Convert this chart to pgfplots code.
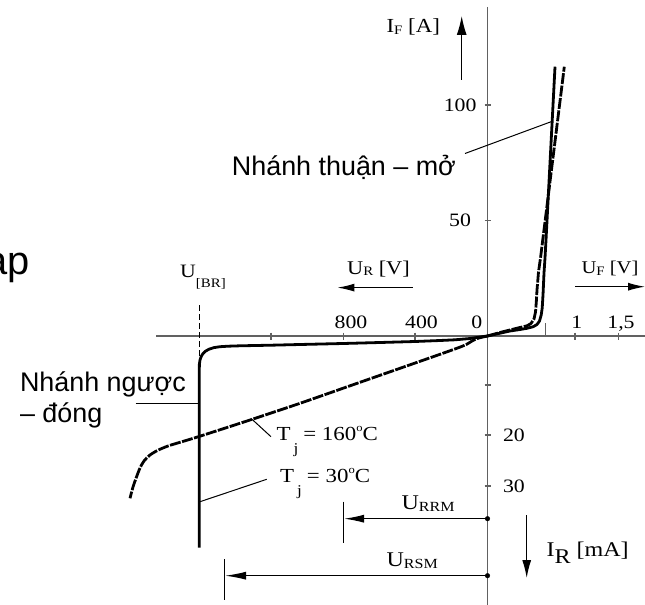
\documentclass[border=0pt]{standalone}
\usepackage{pgfplots}
\pgfplotsset{compat=1.18}
\usetikzlibrary{arrows.meta}
\usepackage{fontspec}
\setmainfont{Liberation Serif}[FakeStretch=1.15]
\newfontfamily\arial{Liberation Sans}
\newcommand\fs[1]{\fontsize{#1}{#1}\selectfont}
\newcommand\sub[2][1.5bp]{\raisebox{-#1}{\fs{13}#2}}
\definecolor{axgray}{gray}{0.38}
\definecolor{txt}{gray}{0.12}
\begin{document}
\begin{tikzpicture}
\begin{axis}[
  width=645bp, height=605bp, scale only axis,
  xmin=0, xmax=645, ymin=0, ymax=605, y dir=reverse,
  hide axis, clip=false,
  every node/.append style={inner sep=0pt, text=txt},
]
% ---- axes ----
\addplot[axgray, line width=1.3bp] coordinates {(156,336) (645,336)};
\addplot[axgray, line width=1.3bp] coordinates {(487.5,7) (487.5,605)};
% x ticks
\addplot[axgray, line width=1.2bp] coordinates {(271,332.5) (271,339.5)};
\addplot[axgray, line width=1.2bp] coordinates {(343.3,332.5) (343.3,339.5)};
\addplot[axgray, line width=1.2bp] coordinates {(415,332.5) (415,339.5)};
\addplot[axgray, line width=1.2bp] coordinates {(575,332.5) (575,339.5)};
\addplot[axgray, line width=1.2bp] coordinates {(618.3,332.5) (618.3,339.5)};
\addplot[axgray, line width=1.2bp] coordinates {(545.7,323) (545.7,336)};
% y ticks
\addplot[axgray, line width=1.2bp] coordinates {(484.5,105) (490.5,105)};
\addplot[axgray, line width=1.2bp] coordinates {(484.5,220.5) (490.5,220.5)};
\addplot[axgray, line width=1.2bp] coordinates {(484.5,385) (490.5,385)};
\addplot[axgray, line width=1.2bp] coordinates {(484.5,435) (490.5,435)};
\addplot[axgray, line width=1.2bp] coordinates {(484.5,486) (490.5,486)};
% U_BR dashed marker
\addplot[black, line width=1.3bp, dash pattern=on 6bp off 3bp] coordinates {(199.3,305) (199.3,366)};
% ---- curves ----
% T_j = 30 C (solid)
\addplot[black, line width=2.8bp, line join=round] coordinates {
 (487.5,336) (480,337) (470,338.5) (455,339.8) (440,340.5) (415,341.5) (380,342.5)
 (343,343.5) (300,344.5) (271,345.2) (240,345.8) (228,346.2) (220,346.7) (214,347.6)
 (209,349.2) (205.5,351.2) (203,353.5) (201.2,356.5) (200,360) (199.4,364) (199.3,370) (199.3,547.5)};
\addplot[black, line width=2.8bp, line join=round] coordinates {
 (487.5,336) (500,333.2) (510,331) (520,329.5) (527,328.3) (533,326.8) (537,324.5)
 (539.5,321) (541.2,315) (542.2,308) (543,295) (544,273) (545,258) (546,240) (555,66.7)};
% T_j = 160 C (dashed)
\addplot[black, line width=2.8bp, dash pattern=on 11bp off 1.5bp, smooth, tension=0.5] coordinates {
 (487.5,336) (482,337.2) (477,338.6) (472,341) (467,344.1) (460,347.1) (440,354.3) (400,368.3)
 (350,385.8) (300,403.3) (250,420) (199,436.5) (180,442.3) (168,446) (158,450.2) (150,455)
 (144,461) (140,468) (136.5,477) (133,487) (130,498.3)};
\addplot[black, line width=2.8bp, dash pattern=on 11bp off 1.5bp, line join=round] coordinates {
 (487.5,336) (500,332.5) (510,330) (520,327.5) (527,325.8) (531,323.5) (534,319)
 (535.5,312) (536.3,302) (537,290) (538.5,272) (540.5,258) (564.3,66.7)};
% ---- leader lines ----
\addplot[black, line width=1bp] coordinates {(465,153.5) (551.7,121.5)};
\addplot[black, line width=1bp] coordinates {(135.5,403.5) (200,403.5)};
\addplot[black, line width=1bp] coordinates {(251.7,419) (271,436.7)};
\addplot[black, line width=1bp] coordinates {(200,501.7) (266.7,479.3)};
% ---- axis arrows ----
\addplot[black, line width=1.2bp, -{Latex[length=19bp,width=10bp]}] coordinates {(461.7,80) (461.7,16)};
\addplot[black, line width=1.2bp, -{Latex[length=17bp,width=8bp]}] coordinates {(412.8,287.6) (337.4,287.6)};
\addplot[black, line width=1.2bp, -{Latex[length=17bp,width=8bp]}] coordinates {(575,286.7) (645,286.7)};
\addplot[black, line width=1.2bp, -{Latex[length=18bp,width=9bp]}] coordinates {(526.7,515) (526.7,578)};
% U_RRM, U_RSM
\addplot[black, line width=1.2bp, -{Latex[length=20bp,width=8bp]}] coordinates {(487.5,518.7) (344,518.7)};
\addplot[black, line width=1.4bp] coordinates {(343.3,501.7) (343.3,543.3)};
\addplot[black, line width=1.2bp, -{Latex[length=21bp,width=8bp]}] coordinates {(487.5,575.7) (225,575.7)};
\addplot[black, line width=1.4bp] coordinates {(224.3,559.3) (224.3,600)};
\addplot[black, only marks, mark=*, mark size=2.3bp] coordinates {(487.5,518.7) (487.5,575.7)};
% ---- tick labels ----
\node[anchor=east] at (axis cs:480,105) {\fs{19}100};
\node[anchor=east] at (axis cs:474.5,220.5) {\fs{19}50};
\node[anchor=west] at (axis cs:499.5,435) {\fs{19}20};
\node[anchor=west] at (axis cs:499.5,486) {\fs{19}30};
\node[anchor=base] at (axis cs:351,328) {\fs{19}800};
\node[anchor=base] at (axis cs:421.5,328) {\fs{19}400};
\node[anchor=base] at (axis cs:476.7,328) {\fs{19}0};
\node[anchor=base] at (axis cs:576.7,328) {\fs{19}1};
\node[anchor=base] at (axis cs:621,328) {\fs{19}1,5};
% ---- axis labels ----
\node[anchor=base west] at (axis cs:383,33) {\fs{20}I\sub{F} [A]};
\node[anchor=base west] at (axis cs:578,273.5) {\fs{18}U\sub{F} [V]};
\node[anchor=base west] at (axis cs:343.6,274) {\fs{19.5}U\sub{R} [V]};
\node[anchor=base west] at (axis cs:176.7,277.7) {\fs{19}U\sub[10bp]{[BR]}};
\node[anchor=base west] at (axis cs:398,509.5) {\fs{21}U\sub[2bp]{\fs{14}RRM}};
\node[anchor=base west] at (axis cs:383,566) {\fs{21}U\sub[2bp]{\fs{14}RSM}};
\node[anchor=base west] at (axis cs:543,556.5) {\fs{21}I\raisebox{-7bp}{R} [mA]};
% T_j labels
\node[anchor=base west] at (axis cs:273,440) {\fs{20}T\hspace{3bp}\raisebox{-13bp}{\fs{15}j}\hspace{5bp}= 160\raisebox{9bp}{\fs{11}o}C};
\node[anchor=base west] at (axis cs:276.7,482.7) {\fs{20}T\hspace{3bp}\raisebox{-13bp}{\fs{15}j}\hspace{5bp}= 30\raisebox{9bp}{\fs{11}o}C};
% ---- Vietnamese labels ----
\node[anchor=base west] at (axis cs:228.4,175.7) {\arial\fs{27}Nhánh thuận – mở};
\node[anchor=base west] at (axis cs:16.5,391) {\arial\fs{27}Nhánh ngược};
\node[anchor=base west] at (axis cs:16.5,422) {\arial\fs{27}– đóng};
\node[anchor=base west] at (axis cs:-17.7,274) {\arial\fs{40}ap};
\end{axis}
\pgfresetboundingbox
\path[use as bounding box] (0,0) rectangle (645bp,605bp);
\end{tikzpicture}
\end{document}
